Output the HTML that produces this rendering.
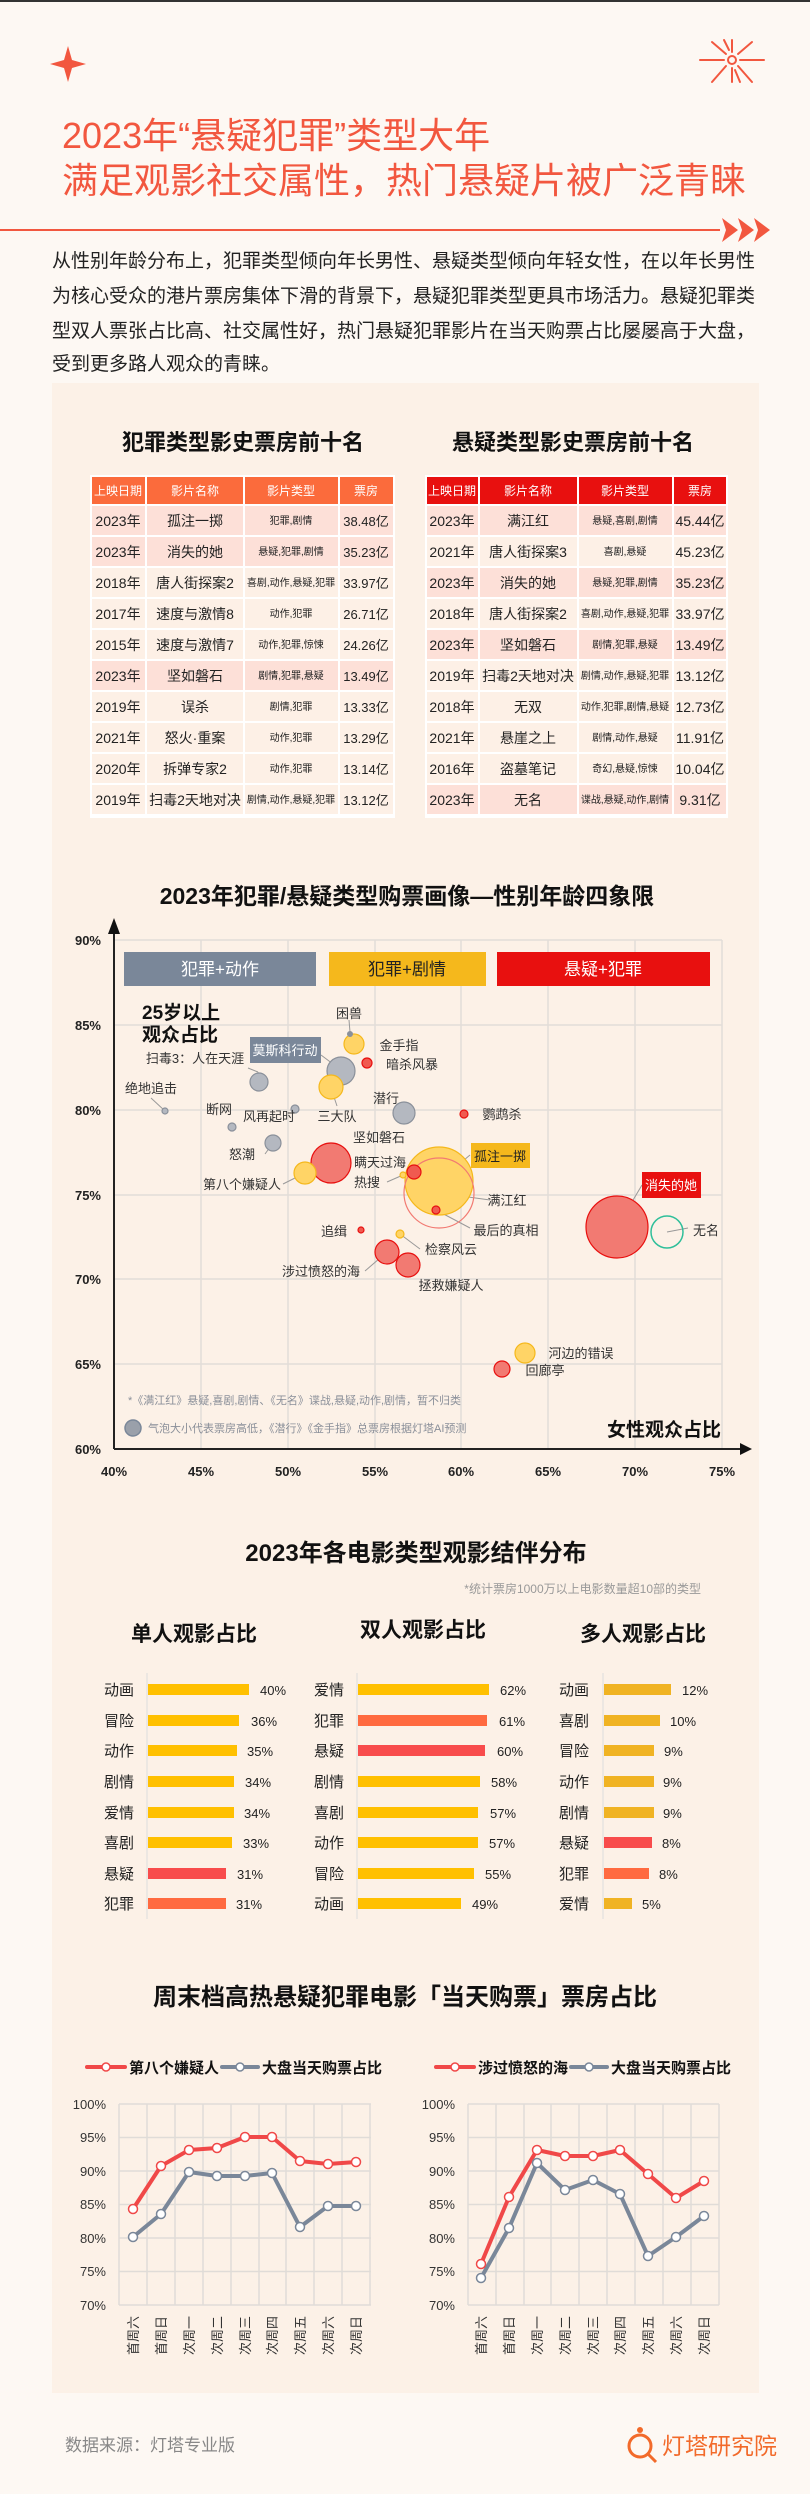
<!DOCTYPE html>
<html><head><meta charset="utf-8">
<style>
html,body{margin:0;padding:0;background:#fdf8f3;}
svg{display:block;font-family:"Liberation Sans","Noto Sans CJK SC",sans-serif;}
</style></head>
<body>
<svg width="810" height="2494" viewBox="0 0 810 2494" xmlns="http://www.w3.org/2000/svg">
<rect width="810" height="2494" fill="#fdf8f3"/>
<rect x="0" y="0" width="810" height="2" fill="#333"/>
<rect x="52" y="383" width="707" height="2010" fill="#fcf1e7"/>
<!-- decorations -->
<path d="M68 46 L72 60 L86 64 L72 68 L68 82 L64 68 L50 64 L64 60Z" fill="#f2573f"/>
<g stroke="#f2573f" stroke-width="2" stroke-linecap="round">
<line x1="732" y1="52" x2="732" y2="40"/><line x1="732" y1="68" x2="732" y2="82"/>
<line x1="724" y1="60" x2="700" y2="60"/><line x1="740" y1="60" x2="764" y2="60"/>
<line x1="726" y1="54" x2="712" y2="42"/><line x1="738" y1="54" x2="752" y2="42"/>
<line x1="726" y1="66" x2="712" y2="82"/><line x1="738" y1="66" x2="752" y2="82"/>
<line x1="729" y1="50" x2="724" y2="40"/><line x1="735" y1="70" x2="740" y2="82"/>
</g>
<circle cx="732" cy="60" r="4" fill="none" stroke="#f2573f" stroke-width="2"/>
<text x="62" y="148" font-size="36" fill="#f2573f">2023年“悬疑犯罪”类型大年</text>
<text x="62" y="193" font-size="36" fill="#f2573f">满足观影社交属性，热门悬疑片被广泛青睐</text>
<line x1="0" y1="230" x2="720" y2="230" stroke="#f2573f" stroke-width="2"/>
<path d="M722 218 L738 230 L722 242 L726 230Z M738 218 L754 230 L738 242 L742 230Z M754 218 L770 230 L754 242 L758 230Z" fill="#f2573f"/>
<g font-size="19" fill="#222">
<text x="52" y="267">从性别年龄分布上，犯罪类型倾向年长男性、悬疑类型倾向年轻女性，在以年长男性</text>
<text x="52" y="302">为核心受众的港片票房集体下滑的背景下，悬疑犯罪类型更具市场活力。悬疑犯罪类</text>
<text x="52" y="337">型双人票张占比高、社交属性好，热门悬疑犯罪影片在当天购票占比屡屡高于大盘，</text>
<text x="52" y="370">受到更多路人观众的青睐。</text>
</g>

<!-- tables -->
<g font-weight="bold" font-size="22" fill="#111" text-anchor="middle">
<text x="243" y="450">犯罪类型影史票房前十名</text>
<text x="573" y="450">悬疑类型影史票房前十名</text>
</g>
<rect x="90" y="475" width="305" height="343" fill="#fff"/>
<rect x="425" y="475" width="303" height="343" fill="#fff"/>
<g fill="#fb6b3c">
<rect x="92" y="477" width="53" height="27"/><rect x="147" y="477" width="96" height="27"/><rect x="245" y="477" width="93" height="27"/><rect x="340" y="477" width="53" height="27"/></g>
<g fill="#e8100f">
<rect x="427" y="477" width="51" height="27"/><rect x="480" y="477" width="97" height="27"/><rect x="579" y="477" width="93" height="27"/><rect x="674" y="477" width="52" height="27"/></g>
<g fill="#fff" font-size="12" text-anchor="middle">
<text x="118" y="495">上映日期</text><text x="195" y="495">影片名称</text><text x="291" y="495">影片类型</text><text x="366" y="495">票房</text>
<text x="452" y="495">上映日期</text><text x="528" y="495">影片名称</text><text x="625" y="495">影片类型</text><text x="700" y="495">票房</text>
</g>
<g>
<rect x="92" y="506" width="301" height="29" fill="#fde0d8"/>
<rect x="92" y="537" width="301" height="29" fill="#fde0d8"/>
<rect x="92" y="568" width="301" height="29" fill="#fdf0e6"/>
<rect x="92" y="599" width="301" height="29" fill="#fdf0e6"/>
<rect x="92" y="630" width="301" height="29" fill="#fdf0e6"/>
<rect x="92" y="661" width="301" height="29" fill="#fde0d8"/>
<rect x="92" y="692" width="301" height="29" fill="#fdf0e6"/>
<rect x="92" y="723" width="301" height="29" fill="#fdf0e6"/>
<rect x="92" y="754" width="301" height="29" fill="#fdf0e6"/>
<rect x="92" y="785" width="301" height="29" fill="#fdf0e6"/>
<rect x="427" y="506" width="299" height="29" fill="#fde0d8"/>
<rect x="427" y="537" width="299" height="29" fill="#fdf0e6"/>
<rect x="427" y="568" width="299" height="29" fill="#fde0d8"/>
<rect x="427" y="599" width="299" height="29" fill="#fdf0e6"/>
<rect x="427" y="630" width="299" height="29" fill="#fde0d8"/>
<rect x="427" y="661" width="299" height="29" fill="#fdf0e6"/>
<rect x="427" y="692" width="299" height="29" fill="#fdf0e6"/>
<rect x="427" y="723" width="299" height="29" fill="#fdf0e6"/>
<rect x="427" y="754" width="299" height="29" fill="#fdf0e6"/>
<rect x="427" y="785" width="299" height="29" fill="#fde0d8"/>
</g>
<g fill="#fff"><rect x="145" y="504" width="2" height="312"/><rect x="243" y="504" width="2" height="312"/><rect x="338" y="504" width="2" height="312"/>
<rect x="478" y="504" width="2" height="312"/><rect x="577" y="504" width="2" height="312"/><rect x="672" y="504" width="2" height="312"/></g>
<g font-size="14" fill="#222" text-anchor="middle">
<text x="118" y="526">2023年</text><text x="195" y="526">孤注一掷</text><text x="366" y="526" font-size="13">38.48亿</text>
<text x="118" y="557">2023年</text><text x="195" y="557">消失的她</text><text x="366" y="557" font-size="13">35.23亿</text>
<text x="118" y="588">2018年</text><text x="195" y="588">唐人街探案2</text><text x="366" y="588" font-size="13">33.97亿</text>
<text x="118" y="619">2017年</text><text x="195" y="619">速度与激情8</text><text x="366" y="619" font-size="13">26.71亿</text>
<text x="118" y="650">2015年</text><text x="195" y="650">速度与激情7</text><text x="366" y="650" font-size="13">24.26亿</text>
<text x="118" y="681">2023年</text><text x="195" y="681">坚如磐石</text><text x="366" y="681" font-size="13">13.49亿</text>
<text x="118" y="712">2019年</text><text x="195" y="712">误杀</text><text x="366" y="712" font-size="13">13.33亿</text>
<text x="118" y="743">2021年</text><text x="195" y="743">怒火·重案</text><text x="366" y="743" font-size="13">13.29亿</text>
<text x="118" y="774">2020年</text><text x="195" y="774">拆弹专家2</text><text x="366" y="774" font-size="13">13.14亿</text>
<text x="118" y="805">2019年</text><text x="195" y="805">扫毒2天地对决</text><text x="366" y="805" font-size="13">13.12亿</text>
<text x="452" y="526">2023年</text><text x="528" y="526">满江红</text><text x="700" y="526">45.44亿</text>
<text x="452" y="557">2021年</text><text x="528" y="557">唐人街探案3</text><text x="700" y="557">45.23亿</text>
<text x="452" y="588">2023年</text><text x="528" y="588">消失的她</text><text x="700" y="588">35.23亿</text>
<text x="452" y="619">2018年</text><text x="528" y="619">唐人街探案2</text><text x="700" y="619">33.97亿</text>
<text x="452" y="650">2023年</text><text x="528" y="650">坚如磐石</text><text x="700" y="650">13.49亿</text>
<text x="452" y="681">2019年</text><text x="528" y="681">扫毒2天地对决</text><text x="700" y="681">13.12亿</text>
<text x="452" y="712">2018年</text><text x="528" y="712">无双</text><text x="700" y="712">12.73亿</text>
<text x="452" y="743">2021年</text><text x="528" y="743">悬崖之上</text><text x="700" y="743">11.91亿</text>
<text x="452" y="774">2016年</text><text x="528" y="774">盗墓笔记</text><text x="700" y="774">10.04亿</text>
<text x="452" y="805">2023年</text><text x="528" y="805">无名</text><text x="700" y="805">9.31亿</text>
</g>
<g font-size="10" fill="#222" text-anchor="middle">
<text x="291" y="524">犯罪,剧情</text><text x="291" y="555">悬疑,犯罪,剧情</text><text x="291" y="586">喜剧,动作,悬疑,犯罪</text><text x="291" y="617">动作,犯罪</text><text x="291" y="648">动作,犯罪,惊悚</text><text x="291" y="679">剧情,犯罪,悬疑</text><text x="291" y="710">剧情,犯罪</text><text x="291" y="741">动作,犯罪</text><text x="291" y="772">动作,犯罪</text><text x="291" y="803">剧情,动作,悬疑,犯罪</text>
<text x="625" y="524">悬疑,喜剧,剧情</text><text x="625" y="555">喜剧,悬疑</text><text x="625" y="586">悬疑,犯罪,剧情</text><text x="625" y="617">喜剧,动作,悬疑,犯罪</text><text x="625" y="648">剧情,犯罪,悬疑</text><text x="625" y="679">剧情,动作,悬疑,犯罪</text><text x="625" y="710">动作,犯罪,剧情,悬疑</text><text x="625" y="741">剧情,动作,悬疑</text><text x="625" y="772">奇幻,悬疑,惊悚</text><text x="625" y="803">谍战,悬疑,动作,剧情</text>
</g>

<!-- scatter -->
<text x="407" y="904" font-size="23" font-weight="bold" fill="#111" text-anchor="middle">2023年犯罪/悬疑类型购票画像—性别年龄四象限</text>
<g stroke="#e2ddd8" stroke-width="1.5">
<line x1="114" y1="940" x2="722" y2="940"/><line x1="114" y1="1025" x2="722" y2="1025"/><line x1="114" y1="1110" x2="722" y2="1110"/><line x1="114" y1="1195" x2="722" y2="1195"/><line x1="114" y1="1279" x2="722" y2="1279"/><line x1="114" y1="1364" x2="722" y2="1364"/>
<line x1="201" y1="940" x2="201" y2="1449"/><line x1="288" y1="940" x2="288" y2="1449"/><line x1="375" y1="940" x2="375" y2="1449"/><line x1="461" y1="940" x2="461" y2="1449"/><line x1="548" y1="940" x2="548" y2="1449"/><line x1="635" y1="940" x2="635" y2="1449"/><line x1="722" y1="940" x2="722" y2="1449"/>
</g>
<line x1="114" y1="1449" x2="742" y2="1449" stroke="#222" stroke-width="2"/>
<line x1="114" y1="1449" x2="114" y2="930" stroke="#222" stroke-width="2"/>
<path d="M108 934 L114 918 L120 934Z M740 1443 L752 1449 L740 1455Z" fill="#111"/>
<g font-size="13" font-weight="bold" fill="#222" text-anchor="end">
<text x="101" y="945">90%</text><text x="101" y="1030">85%</text><text x="101" y="1115">80%</text><text x="101" y="1200">75%</text><text x="101" y="1284">70%</text><text x="101" y="1369">65%</text><text x="101" y="1454">60%</text></g>
<g font-size="13" font-weight="bold" fill="#222" text-anchor="middle">
<text x="114" y="1476">40%</text><text x="201" y="1476">45%</text><text x="288" y="1476">50%</text><text x="375" y="1476">55%</text><text x="461" y="1476">60%</text><text x="548" y="1476">65%</text><text x="635" y="1476">70%</text><text x="722" y="1476">75%</text></g>
<rect x="124" y="952" width="192" height="34" fill="#7a8799"/>
<rect x="329" y="952" width="157" height="34" fill="#f5b81c"/>
<rect x="497" y="952" width="213" height="34" fill="#e8100f"/>
<g font-size="17" text-anchor="middle"><text x="220" y="975" fill="#fff">犯罪+动作</text><text x="407" y="975" fill="#222">犯罪+剧情</text><text x="603" y="975" fill="#fff">悬疑+犯罪</text></g>
<g font-size="19" font-weight="bold" fill="#111"><text x="142" y="1019">25岁以上</text><text x="142" y="1041">观众占比</text><text x="607" y="1436">女性观众占比</text></g>
<g font-size="11" fill="#8a8f99"><text x="128" y="1404">*《满江红》悬疑,喜剧,剧情、《无名》谍战,悬疑,动作,剧情，暂不归类</text><text x="148" y="1432">气泡大小代表票房高低，《潜行》《金手指》总票房根据灯塔AI预测</text></g>
<circle cx="133" cy="1428" r="8" fill="#9aa0aa" stroke="#7a8799" stroke-width="1.5"/>
<g stroke="#999" stroke-width="1" fill="none">
<line x1="349" y1="1020" x2="350" y2="1032"/><line x1="321" y1="1055" x2="341" y2="1070"/><line x1="248" y1="1068" x2="258" y2="1072"/><line x1="258" y1="1072" x2="259" y2="1082"/><line x1="151" y1="1098" x2="165" y2="1111"/><line x1="337" y1="1106" x2="331" y2="1088"/><line x1="338" y1="1152" x2="331" y2="1163"/><line x1="265" y1="1154" x2="273" y2="1143"/><line x1="283" y1="1184" x2="305" y2="1173"/><line x1="387" y1="1182" x2="403" y2="1175"/><line x1="470" y1="1155" x2="439" y2="1181"/><line x1="490" y1="1200" x2="439" y2="1193"/><line x1="470" y1="1228" x2="436" y2="1210"/><line x1="642" y1="1185" x2="617" y2="1227"/><line x1="688" y1="1228" x2="667" y2="1232"/><line x1="420" y1="1249" x2="400" y2="1234"/><line x1="365" y1="1271" x2="387" y2="1252"/></g>
<g stroke-width="1.2">
<circle cx="617" cy="1227" r="31" fill="#f27a72" stroke="#e8100f"/>
<circle cx="439" cy="1181" r="34" fill="#ffd466" stroke="#f5b81c"/>
<circle cx="439" cy="1193" r="35" fill="none" stroke="#f27a72"/>
<circle cx="667" cy="1232" r="16" fill="none" stroke="#2fbf9a" stroke-width="1.5"/>
<circle cx="331" cy="1163" r="20" fill="#f27a72" stroke="#e8100f"/>
<circle cx="341" cy="1071" r="14" fill="#b4b8c0" stroke="#8a909a"/>
<circle cx="354" cy="1044" r="10" fill="#ffd466" stroke="#f5b81c"/>
<circle cx="331" cy="1087" r="12" fill="#ffd466" stroke="#f5b81c"/>
<circle cx="259" cy="1082" r="9" fill="#b4b8c0" stroke="#8a909a"/>
<circle cx="404" cy="1113" r="11" fill="#b4b8c0" stroke="#8a909a"/>
<circle cx="273" cy="1143" r="8" fill="#b4b8c0" stroke="#8a909a"/>
<circle cx="305" cy="1173" r="11" fill="#ffd466" stroke="#f5b81c"/>
<circle cx="414" cy="1172" r="7" fill="#f05a50" stroke="#e8100f"/>
<circle cx="403" cy="1175" r="3" fill="#ffd466" stroke="#f5b81c"/>
<circle cx="367" cy="1063" r="5" fill="#f05a50" stroke="#e8100f"/>
<circle cx="350" cy="1034" r="3" fill="#8a909a"/>
<circle cx="165" cy="1111" r="3" fill="#b4b8c0" stroke="#8a909a"/>
<circle cx="232" cy="1127" r="4" fill="#b4b8c0" stroke="#8a909a"/>
<circle cx="295" cy="1109" r="4" fill="#b4b8c0" stroke="#8a909a"/>
<circle cx="464" cy="1114" r="4" fill="#f05a50" stroke="#e8100f"/>
<circle cx="436" cy="1210" r="4" fill="#f05a50" stroke="#e8100f"/>
<circle cx="361" cy="1230" r="3" fill="#f05a50" stroke="#e8100f"/>
<circle cx="400" cy="1234" r="4" fill="#ffd466" stroke="#f5b81c"/>
<circle cx="387" cy="1252" r="12" fill="#f27a72" stroke="#e8100f"/>
<circle cx="408" cy="1265" r="12" fill="#f27a72" stroke="#e8100f"/>
<circle cx="525" cy="1353" r="10" fill="#ffd466" stroke="#f5b81c"/>
<circle cx="502" cy="1369" r="8" fill="#f27a72" stroke="#e8100f"/>
</g>
<rect x="250" y="1037" width="71" height="26" fill="#7a8799"/>
<rect x="471" y="1143" width="59" height="25" fill="#f5b81c"/>
<rect x="642" y="1172" width="59" height="26" fill="#e8100f"/>
<g font-size="13" text-anchor="middle"><text x="285" y="1055" fill="#fff">莫斯科行动</text><text x="500" y="1161" fill="#222">孤注一掷</text><text x="671" y="1190" fill="#fff">消失的她</text></g>
<g font-size="13" fill="#333" text-anchor="middle">
<text x="349" y="1018">困兽</text><text x="399" y="1050">金手指</text><text x="412" y="1069">暗杀风暴</text><text x="195" y="1063">扫毒3：人在天涯</text><text x="151" y="1093">绝地追击</text><text x="219" y="1114">断网</text><text x="269" y="1121">风再起时</text><text x="337" y="1121">三大队</text><text x="386" y="1103">潜行</text><text x="502" y="1119">鹦鹉杀</text><text x="379" y="1142">坚如磐石</text><text x="242" y="1159">怒潮</text><text x="380" y="1167">瞒天过海</text><text x="367" y="1187">热搜</text><text x="242" y="1189">第八个嫌疑人</text><text x="507" y="1205">满江红</text><text x="506" y="1235">最后的真相</text><text x="706" y="1235">无名</text><text x="334" y="1236">追缉</text><text x="451" y="1254">检察风云</text><text x="321" y="1276">涉过愤怒的海</text><text x="451" y="1290">拯救嫌疑人</text><text x="581" y="1358">河边的错误</text><text x="545" y="1375">回廊亭</text>
</g>

<!-- bars -->
<text x="416" y="1561" font-size="24" font-weight="bold" fill="#111" text-anchor="middle">2023年各电影类型观影结伴分布</text>
<text x="701" y="1593" font-size="12" fill="#999" text-anchor="end">*统计票房1000万以上电影数量超10部的类型</text>
<g font-size="21" font-weight="bold" fill="#111" text-anchor="middle"><text x="194" y="1641">单人观影占比</text><text x="423" y="1637">双人观影占比</text><text x="643" y="1641">多人观影占比</text></g>
<g stroke="#ddd" stroke-width="1"><line x1="147" y1="1673" x2="147" y2="1919"/><line x1="357" y1="1673" x2="357" y2="1919"/><line x1="603" y1="1673" x2="603" y2="1919"/></g>
<g>
<rect x="148" y="1684" width="101" height="11" fill="#ffc000"/><rect x="148" y="1715" width="91" height="11" fill="#ffc000"/><rect x="148" y="1745" width="89" height="11" fill="#ffc000"/><rect x="148" y="1776" width="86" height="11" fill="#ffc000"/><rect x="148" y="1807" width="86" height="11" fill="#ffc000"/><rect x="148" y="1837" width="84" height="11" fill="#ffc000"/><rect x="148" y="1868" width="78" height="11" fill="#f84c4c"/><rect x="148" y="1898" width="78" height="11" fill="#ff6a40"/>
<rect x="358" y="1684" width="131" height="11" fill="#ffc000"/><rect x="358" y="1715" width="129" height="11" fill="#ff6a40"/><rect x="358" y="1745" width="127" height="11" fill="#f84c4c"/><rect x="358" y="1776" width="122" height="11" fill="#ffc000"/><rect x="358" y="1807" width="120" height="11" fill="#ffc000"/><rect x="358" y="1837" width="120" height="11" fill="#ffc000"/><rect x="358" y="1868" width="116" height="11" fill="#ffc000"/><rect x="358" y="1898" width="103" height="11" fill="#ffc000"/>
<rect x="604" y="1684" width="67" height="11" fill="#f0b323"/><rect x="604" y="1715" width="56" height="11" fill="#f0b323"/><rect x="604" y="1745" width="50" height="11" fill="#f0b323"/><rect x="604" y="1776" width="50" height="11" fill="#f0b323"/><rect x="604" y="1807" width="50" height="11" fill="#f0b323"/><rect x="604" y="1837" width="48" height="11" fill="#f84c4c"/><rect x="604" y="1868" width="45" height="11" fill="#ff6a40"/><rect x="604" y="1898" width="28" height="11" fill="#f0b323"/>
</g>
<g font-size="15" fill="#222" text-anchor="middle">
<text x="119" y="1695">动画</text><text x="119" y="1726">冒险</text><text x="119" y="1756">动作</text><text x="119" y="1787">剧情</text><text x="119" y="1818">爱情</text><text x="119" y="1848">喜剧</text><text x="119" y="1879">悬疑</text><text x="119" y="1909">犯罪</text>
<text x="329" y="1695">爱情</text><text x="329" y="1726">犯罪</text><text x="329" y="1756">悬疑</text><text x="329" y="1787">剧情</text><text x="329" y="1818">喜剧</text><text x="329" y="1848">动作</text><text x="329" y="1879">冒险</text><text x="329" y="1909">动画</text>
<text x="574" y="1695">动画</text><text x="574" y="1726">喜剧</text><text x="574" y="1756">冒险</text><text x="574" y="1787">动作</text><text x="574" y="1818">剧情</text><text x="574" y="1848">悬疑</text><text x="574" y="1879">犯罪</text><text x="574" y="1909">爱情</text>
</g>
<g font-size="13" fill="#222">
<text x="260" y="1695">40%</text><text x="251" y="1726">36%</text><text x="247" y="1756">35%</text><text x="245" y="1787">34%</text><text x="244" y="1818">34%</text><text x="243" y="1848">33%</text><text x="237" y="1879">31%</text><text x="236" y="1909">31%</text>
<text x="500" y="1695">62%</text><text x="499" y="1726">61%</text><text x="497" y="1756">60%</text><text x="491" y="1787">58%</text><text x="490" y="1818">57%</text><text x="489" y="1848">57%</text><text x="485" y="1879">55%</text><text x="472" y="1909">49%</text>
<text x="682" y="1695">12%</text><text x="670" y="1726">10%</text><text x="664" y="1756">9%</text><text x="663" y="1787">9%</text><text x="663" y="1818">9%</text><text x="662" y="1848">8%</text><text x="659" y="1879">8%</text><text x="642" y="1909">5%</text>
</g>

<!-- line charts -->
<text x="405" y="2005" font-size="24" font-weight="bold" fill="#111" text-anchor="middle">周末档高热悬疑犯罪电影「当天购票」票房占比</text>
<g stroke-width="4" stroke-linecap="round">
<line x1="87" y1="2067" x2="125" y2="2067" stroke="#f04848"/><line x1="222" y1="2067" x2="258" y2="2067" stroke="#7a8799"/>
<line x1="436" y1="2067" x2="474" y2="2067" stroke="#f04848"/><line x1="571" y1="2067" x2="607" y2="2067" stroke="#7a8799"/></g>
<g fill="#fff" stroke-width="1.5"><circle cx="106" cy="2067" r="4" stroke="#f04848"/><circle cx="240" cy="2067" r="4" stroke="#7a8799"/><circle cx="455" cy="2067" r="4" stroke="#f04848"/><circle cx="589" cy="2067" r="4" stroke="#7a8799"/></g>
<g font-size="15" font-weight="bold" fill="#111"><text x="129" y="2073">第八个嫌疑人</text><text x="262" y="2073">大盘当天购票占比</text><text x="478" y="2073">涉过愤怒的海</text><text x="611" y="2073">大盘当天购票占比</text></g>
<g stroke="#e0dcd8" stroke-width="1.5">
<line x1="119" y1="2104" x2="371" y2="2104"/><line x1="119" y1="2137.5" x2="371" y2="2137.5"/><line x1="119" y1="2171" x2="371" y2="2171"/><line x1="119" y1="2204.5" x2="371" y2="2204.5"/><line x1="119" y1="2238" x2="371" y2="2238"/><line x1="119" y1="2271.5" x2="371" y2="2271.5"/><line x1="119" y1="2305" x2="371" y2="2305"/>
<line x1="119" y1="2104" x2="119" y2="2305"/><line x1="147" y1="2104" x2="147" y2="2305"/><line x1="175" y1="2104" x2="175" y2="2305"/><line x1="203" y1="2104" x2="203" y2="2305"/><line x1="231" y1="2104" x2="231" y2="2305"/><line x1="259" y1="2104" x2="259" y2="2305"/><line x1="286" y1="2104" x2="286" y2="2305"/><line x1="314" y1="2104" x2="314" y2="2305"/><line x1="342" y1="2104" x2="342" y2="2305"/><line x1="370" y1="2104" x2="370" y2="2305"/>
<line x1="468" y1="2104" x2="719" y2="2104"/><line x1="468" y1="2137.5" x2="719" y2="2137.5"/><line x1="468" y1="2171" x2="719" y2="2171"/><line x1="468" y1="2204.5" x2="719" y2="2204.5"/><line x1="468" y1="2238" x2="719" y2="2238"/><line x1="468" y1="2271.5" x2="719" y2="2271.5"/><line x1="468" y1="2305" x2="719" y2="2305"/>
<line x1="468" y1="2104" x2="468" y2="2305"/><line x1="496" y1="2104" x2="496" y2="2305"/><line x1="524" y1="2104" x2="524" y2="2305"/><line x1="551" y1="2104" x2="551" y2="2305"/><line x1="579" y1="2104" x2="579" y2="2305"/><line x1="607" y1="2104" x2="607" y2="2305"/><line x1="635" y1="2104" x2="635" y2="2305"/><line x1="663" y1="2104" x2="663" y2="2305"/><line x1="691" y1="2104" x2="691" y2="2305"/><line x1="719" y1="2104" x2="719" y2="2305"/>
</g>
<g font-size="13" fill="#333" text-anchor="end">
<text x="106" y="2109">100%</text><text x="106" y="2142">95%</text><text x="106" y="2176">90%</text><text x="106" y="2209">85%</text><text x="106" y="2243">80%</text><text x="106" y="2276">75%</text><text x="106" y="2310">70%</text>
<text x="455" y="2109">100%</text><text x="455" y="2142">95%</text><text x="455" y="2176">90%</text><text x="455" y="2209">85%</text><text x="455" y="2243">80%</text><text x="455" y="2276">75%</text><text x="455" y="2310">70%</text>
</g>
<g fill="none" stroke-width="4" stroke-linejoin="round">
<polyline stroke="#7a8799" points="133,2237 161,2214 189,2172 217,2176 245,2176 272,2173 300,2227 328,2206 356,2206"/>
<polyline stroke="#f04848" points="133,2209 161,2166 189,2150 217,2148 245,2137 272,2137 300,2161 328,2164 356,2162"/>
<polyline stroke="#7a8799" points="481,2278 509,2228 537,2163 565,2190 593,2180 620,2194 648,2256 676,2237 704,2216"/>
<polyline stroke="#f04848" points="481,2264 509,2197 537,2150 565,2156 593,2156 620,2150 648,2174 676,2198 704,2181"/>
</g>
<g fill="#fff" stroke-width="1.5">
<g stroke="#7a8799"><circle cx="133" cy="2237" r="4.5"/><circle cx="161" cy="2214" r="4.5"/><circle cx="189" cy="2172" r="4.5"/><circle cx="217" cy="2176" r="4.5"/><circle cx="245" cy="2176" r="4.5"/><circle cx="272" cy="2173" r="4.5"/><circle cx="300" cy="2227" r="4.5"/><circle cx="328" cy="2206" r="4.5"/><circle cx="356" cy="2206" r="4.5"/>
<circle cx="481" cy="2278" r="4.5"/><circle cx="509" cy="2228" r="4.5"/><circle cx="537" cy="2163" r="4.5"/><circle cx="565" cy="2190" r="4.5"/><circle cx="593" cy="2180" r="4.5"/><circle cx="620" cy="2194" r="4.5"/><circle cx="648" cy="2256" r="4.5"/><circle cx="676" cy="2237" r="4.5"/><circle cx="704" cy="2216" r="4.5"/></g>
<g stroke="#f04848"><circle cx="133" cy="2209" r="4.5"/><circle cx="161" cy="2166" r="4.5"/><circle cx="189" cy="2150" r="4.5"/><circle cx="217" cy="2148" r="4.5"/><circle cx="245" cy="2137" r="4.5"/><circle cx="272" cy="2137" r="4.5"/><circle cx="300" cy="2161" r="4.5"/><circle cx="328" cy="2164" r="4.5"/><circle cx="356" cy="2162" r="4.5"/>
<circle cx="481" cy="2264" r="4.5"/><circle cx="509" cy="2197" r="4.5"/><circle cx="537" cy="2150" r="4.5"/><circle cx="565" cy="2156" r="4.5"/><circle cx="593" cy="2156" r="4.5"/><circle cx="620" cy="2150" r="4.5"/><circle cx="648" cy="2174" r="4.5"/><circle cx="676" cy="2198" r="4.5"/><circle cx="704" cy="2181" r="4.5"/></g>
</g>
<g font-size="13" fill="#333" text-anchor="end">
<text transform="translate(138,2316) rotate(-90)">首周六</text><text transform="translate(166,2316) rotate(-90)">首周日</text><text transform="translate(194,2316) rotate(-90)">次周一</text><text transform="translate(222,2316) rotate(-90)">次周二</text><text transform="translate(250,2316) rotate(-90)">次周三</text><text transform="translate(277,2316) rotate(-90)">次周四</text><text transform="translate(305,2316) rotate(-90)">次周五</text><text transform="translate(333,2316) rotate(-90)">次周六</text><text transform="translate(361,2316) rotate(-90)">次周日</text>
<text transform="translate(486,2316) rotate(-90)">首周六</text><text transform="translate(514,2316) rotate(-90)">首周日</text><text transform="translate(542,2316) rotate(-90)">次周一</text><text transform="translate(570,2316) rotate(-90)">次周二</text><text transform="translate(598,2316) rotate(-90)">次周三</text><text transform="translate(625,2316) rotate(-90)">次周四</text><text transform="translate(653,2316) rotate(-90)">次周五</text><text transform="translate(681,2316) rotate(-90)">次周六</text><text transform="translate(709,2316) rotate(-90)">次周日</text>
</g>
<text x="65" y="2451" font-size="17" fill="#888">数据来源：灯塔专业版</text>
<g fill="none" stroke="#f26a2a" stroke-width="3"><circle cx="640" cy="2446" r="11"/><line x1="648" y1="2454" x2="656" y2="2462"/></g>
<circle cx="640" cy="2430" r="3" fill="#f26a2a"/>
<text x="662" y="2454" font-size="23" fill="#f26a2a">灯塔研究院</text>
</svg>
</body></html>
